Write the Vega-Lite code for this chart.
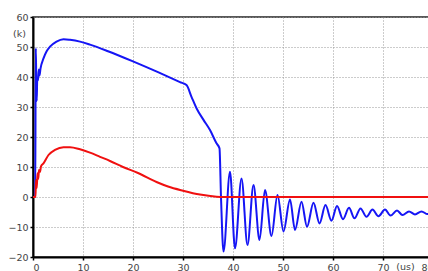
{
  "$schema": "https://vega.github.io/schema/vega-lite/v6.json",
  "width": 400,
  "height": 240,
  "autosize": {"type": "none"},
  "padding": {"left": 33, "top": 17, "right": -5, "bottom": 14},
  "background": "white",
  "config": {
    "view": {"stroke": "#222222", "strokeWidth": 1.5},
    "axis": {
      "grid": true,
      "gridColor": "#999999",
      "gridDash": [1, 2],
      "gridWidth": 1,
      "domainColor": "#000000",
      "domainWidth": 2,
      "tickColor": "#000000",
      "tickSize": 3,
      "tickWidth": 1.5,
      "labelFont": "DejaVu Sans",
      "labelFontSize": 9.5,
      "labelColor": "#444444",
      "labelPadding": 2,
      "titleFont": "DejaVu Sans",
      "titleFontSize": 9.5,
      "titleFontWeight": "normal",
      "titleColor": "#444444"
    }
  },
  "data": {
    "values": [
      {"s": "v", "t": 0, "v": 0}, {"s": "v", "t": 0.45, "v": 0}, {"s": "v", "t": 0.55, "v": 49.6}, {"s": "v", "t": 0.65, "v": 40}, {"s": "v", "t": 0.75, "v": 32}, {"s": "v", "t": 0.85, "v": 39.6}, {"s": "v", "t": 1.0, "v": 38.8}, {"s": "v", "t": 1.15, "v": 42.5}, {"s": "v", "t": 1.3, "v": 40.5}, {"s": "v", "t": 1.5, "v": 42.8}, {"s": "v", "t": 2.1, "v": 46.2}, {"s": "v", "t": 2.7, "v": 48.5}, {"s": "v", "t": 3.4, "v": 50.1}, {"s": "v", "t": 4.7, "v": 51.8}, {"s": "v", "t": 6.1, "v": 52.6}, {"s": "v", "t": 7.4, "v": 52.4}, {"s": "v", "t": 9.4, "v": 51.8}, {"s": "v", "t": 11.4, "v": 50.8}, {"s": "v", "t": 15, "v": 48.6}, {"s": "v", "t": 20, "v": 45.2}, {"s": "v", "t": 25, "v": 41.6}, {"s": "v", "t": 29.4, "v": 38.3}, {"s": "v", "t": 30.7, "v": 37.3}, {"s": "v", "t": 31.7, "v": 33.4}, {"s": "v", "t": 32.7, "v": 29.6}, {"s": "v", "t": 34.1, "v": 25.7}, {"s": "v", "t": 35.4, "v": 22.3}, {"s": "v", "t": 36.7, "v": 17.9}, {"s": "v", "t": 37.3, "v": 16.2}, {"s": "v", "t": 37.6, "v": 0}, {"s": "v", "t": 38.1, "v": -18.2}, {"s": "v", "t": 39.4, "v": 8.4}, {"s": "v", "t": 40.4, "v": -17.1}, {"s": "v", "t": 41.7, "v": 6.2}, {"s": "v", "t": 42.9, "v": -16}, {"s": "v", "t": 44.1, "v": 4}, {"s": "v", "t": 45.3, "v": -14.3}, {"s": "v", "t": 46.4, "v": 2.3}, {"s": "v", "t": 47.7, "v": -13}, {"s": "v", "t": 48.9, "v": 0.7}, {"s": "v", "t": 50.1, "v": -11.5}, {"s": "v", "t": 51.4, "v": -0.8}, {"s": "v", "t": 52.4, "v": -11}, {"s": "v", "t": 53.7, "v": -1.6}, {"s": "v", "t": 54.8, "v": -9.9}, {"s": "v", "t": 56.1, "v": -1.9}, {"s": "v", "t": 57.3, "v": -8.8}, {"s": "v", "t": 58.5, "v": -2.7}, {"s": "v", "t": 59.7, "v": -7.9}, {"s": "v", "t": 60.8, "v": -3}, {"s": "v", "t": 62, "v": -7.4}, {"s": "v", "t": 63.2, "v": -3.6}, {"s": "v", "t": 64.3, "v": -7.1}, {"s": "v", "t": 65.5, "v": -3.8}, {"s": "v", "t": 66.7, "v": -6.6}, {"s": "v", "t": 67.9, "v": -4.2}, {"s": "v", "t": 69.1, "v": -6.4}, {"s": "v", "t": 70.4, "v": -4.2}, {"s": "v", "t": 71.5, "v": -6.2}, {"s": "v", "t": 72.8, "v": -4.5}, {"s": "v", "t": 73.9, "v": -6}, {"s": "v", "t": 75.2, "v": -4.8}, {"s": "v", "t": 76.4, "v": -5.8}, {"s": "v", "t": 77.7, "v": -4.8}, {"s": "v", "t": 78.9, "v": -5.7}, {"s": "v", "t": 80, "v": -5},
      {"s": "i", "t": 0, "v": 0}, {"s": "i", "t": 0.5, "v": 0}, {"s": "i", "t": 0.6, "v": 5.7}, {"s": "i", "t": 0.75, "v": 3}, {"s": "i", "t": 0.9, "v": 7.9}, {"s": "i", "t": 1.05, "v": 6}, {"s": "i", "t": 1.2, "v": 9}, {"s": "i", "t": 1.4, "v": 8.4}, {"s": "i", "t": 1.6, "v": 10.2}, {"s": "i", "t": 2.1, "v": 11.2}, {"s": "i", "t": 3.1, "v": 14}, {"s": "i", "t": 4.4, "v": 15.7}, {"s": "i", "t": 6.1, "v": 16.6}, {"s": "i", "t": 7.4, "v": 16.6}, {"s": "i", "t": 9.4, "v": 15.9}, {"s": "i", "t": 11.4, "v": 14.8}, {"s": "i", "t": 13.4, "v": 13.4}, {"s": "i", "t": 15.4, "v": 12}, {"s": "i", "t": 18, "v": 10}, {"s": "i", "t": 21, "v": 8}, {"s": "i", "t": 24.7, "v": 5}, {"s": "i", "t": 27, "v": 3.5}, {"s": "i", "t": 30, "v": 2.1}, {"s": "i", "t": 33.4, "v": 0.8}, {"s": "i", "t": 36.7, "v": 0.1}, {"s": "i", "t": 38, "v": 0}, {"s": "i", "t": 80, "v": 0}
    ]
  },
  "encoding": {
    "x": {
      "field": "t", "type": "quantitative",
      "scale": {"domain": [0, 80], "nice": false},
      "axis": {"values": [0, 10, 20, 30, 40, 50, 60, 70, 80], "title": "(us)", "titleX": 372, "titleY": 12, "titleBaseline": "alphabetic"}
    },
    "y": {
      "field": "v", "type": "quantitative",
      "scale": {"domain": [-20, 60], "nice": false},
      "axis": {"values": [-20, -10, 0, 10, 20, 30, 40, 50, 60], "title": "(k)", "titleAngle": 0, "titleX": -14, "titleY": 16, "titleAlign": "center", "titleBaseline": "middle"}
    }
  },
  "layer": [
    {
      "transform": [{"filter": "datum.s === 'v'"}],
      "mark": {"type": "line", "color": "#1515f5", "strokeWidth": 2, "interpolate": "monotone"}
    },
    {
      "transform": [{"filter": "datum.s === 'i'"}],
      "mark": {"type": "line", "color": "#f01010", "strokeWidth": 2, "interpolate": "monotone"}
    }
  ]
}
